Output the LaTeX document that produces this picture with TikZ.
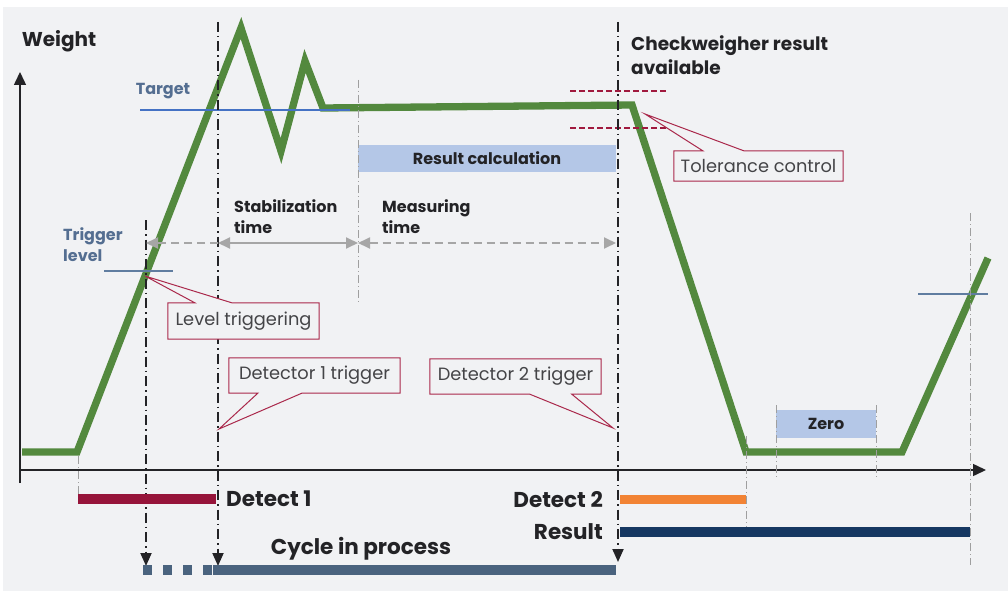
\documentclass[tikz,border=0pt]{standalone}
\usepackage{fontspec}
\setmainfont{Poppins}
\usetikzlibrary{arrows.meta}
\definecolor{bg}{RGB}{241,242,244}
\definecolor{txt}{RGB}{35,35,38}
\definecolor{curvegreen}{RGB}{83,137,62}
\definecolor{targetblue}{RGB}{68,114,196}
\definecolor{trigblue}{RGB}{96,125,160}
\definecolor{labelblue}{RGB}{84,110,145}
\definecolor{tolred}{RGB}{160,25,62}
\definecolor{calloutred}{RGB}{170,40,75}
\definecolor{calcblue}{RGB}{180,199,231}
\definecolor{detred}{RGB}{150,20,58}
\definecolor{detorange}{RGB}{242,131,52}
\definecolor{resnavy}{RGB}{22,56,98}
\definecolor{cycleslate}{RGB}{74,99,126}

\begin{document}
\begin{tikzpicture}[x=1pt,y=-1pt,
		gtip/.tip={Triangle[width=11pt,length=12pt]},
		lbl/.style={font=\bfseries\fontsize{16}{21}\selectfont, text=txt, inner sep=0pt, align=left},
		biglbl/.style={font=\bfseries\fontsize{21.5}{24}\selectfont, text=txt, inner sep=0pt},
		calcbox/.style={fill=calcblue, font=\bfseries\fontsize{16}{20}\selectfont, text=txt, inner sep=0pt},
		callout/.style={fill=bg, font=\fontsize{17.8}{20}\selectfont, text=txt!85, inner sep=0pt},
		calloutline/.style={draw=calloutred, fill=bg, line width=1pt, line join=miter},
		ddash/.style={draw=txt, line width=1.9pt, dash pattern=on 10pt off 4pt on 1.5pt off 4pt, -{Triangle[width=11pt,length=13pt]}},
		gdash/.style={draw=gray!75, line width=0.9pt, dash pattern=on 8pt off 3pt on 1pt off 3pt},
		garrow/.style={draw=gray!70, line width=1.8pt},
		axis/.style={draw=txt, line width=1.5pt, -{Triangle[width=12pt,length=13pt]}}]

		\fill[white] (0,0) rectangle (1008,591);
		\fill[bg] (3,7) rectangle (1008,591);
		\useasboundingbox (0,0) rectangle (1008,591);

		\draw[axis] (20,483) -- (20,72);
		\draw[axis] (20,470) -- (986,470);

		\draw[curvegreen, line width=7.3pt] (22,452) -- (77,452) -- (241,28) -- (281,151) -- (305,61) -- (323,108) -- (632,105) -- (746,452) -- (902,452) -- (988,258);

		\draw[targetblue, line width=2.8pt] (140,110) -- (350,110);
		\draw[trigblue, line width=2.8pt] (104,271) -- (173,271);
		\draw[trigblue, line width=2.8pt] (918,294) -- (988,294);
		\draw[tolred, line width=1.6pt, dash pattern=on 6pt off 3pt] (570,91) -- (667,91);
		\draw[tolred, line width=1.6pt, dash pattern=on 6pt off 3pt] (570,128) -- (667,128);

		\node[calcbox, minimum width=258pt, minimum height=27pt] (rescalc) at (487,158.5) {Result calculation};
		\node[calcbox, minimum width=100pt, minimum height=28pt] (zero) at (826,423.5) {Zero};

		\coordinate (trigtop) at (146,220);
		\coordinate (trigbot) at (146,566);
		\coordinate (det1top) at (218,22);
		\coordinate (det1bot) at (218,566);
		\coordinate (det2top) at (618,22);
		\coordinate (det2bot) at (618,562);
		\draw[ddash] (trigtop) -- (trigbot);
		\draw[ddash] (det1top) -- (det1bot);
		\draw[ddash] (det2top) -- (det2bot);

		\draw[gdash] (358,80) -- (358,302);
		\draw[gdash] (78,456) -- (78,498);
		\draw[gdash] (746,436) -- (746,527);
		\draw[gdash] (776,405) -- (776,478);
		\draw[gdash] (876,405) -- (876,478);
		\draw[gdash] (970,213) -- (970,565);

		\coordinate (t0) at (146,243);
		\coordinate (t1) at (218,243);
		\coordinate (t2) at (358,243);
		\coordinate (t3) at (616,243);
		\draw[garrow, dash pattern=on 8pt off 5pt, -{gtip}] (t1) -- (t0);
		\draw[garrow, {gtip}-{gtip}] (t1) -- (t2);
		\draw[garrow, dash pattern=on 8pt off 5pt, {gtip}-{gtip}] (t2) -- (t3);

		\fill[detred] (78,494) rectangle (216,504);
		\fill[detorange] (620,495) rectangle (746,504);
		\fill[resnavy] (620,527) rectangle (970,537);
		\fill[cycleslate] (213,565) rectangle (616,575);
		\foreach \x in {143,163,183,203}
			\fill[cycleslate] (\x,565) rectangle +(9,10);

		\node[biglbl, font=\bfseries\fontsize{20}{24}\selectfont] (weight) at (59,41) {Weight};
		\node[lbl, text=labelblue] (target) at (163,91) {Target};
		\node[lbl, text=labelblue, anchor=west] (trig) at (63,245) {Trigger\\level};
		\node[lbl, font=\bfseries\fontsize{18.5}{24}\selectfont, anchor=west] (checkw) at (631,55) {Checkweigher result\\available};
		\node[lbl, anchor=west] (stab) at (234,217) {Stabilization\\time};
		\node[lbl, anchor=west] (meas) at (382,217) {Measuring\\time};

		\node[biglbl, anchor=west] (detect1) at (226,499) {Detect 1};
		\node[biglbl, anchor=east] (detect2) at (603,500) {Detect 2};
		\node[biglbl, anchor=east] (result) at (603,532) {Result};
		\node[biglbl] (cycle) at (361,549) {Cycle in process};

		\node[callout, minimum width=151pt, minimum height=36pt] (lvl) at (243.5,321) {Level triggering};
		\coordinate (lvltip) at (145,276);
		\draw[calloutline] (lvl.north west) -- ([xshift=27pt]lvl.north west) -- (lvltip) -- ([xshift=64pt]lvl.north west) -- (lvl.north east) -- (lvl.south east) -- (lvl.south west) -- cycle;
		\node[callout, fill=none] at (lvl) {Level triggering};

		\node[callout, minimum width=171pt, minimum height=35pt] (det1) at (314.5,375.5) {Detector 1 trigger};
		\coordinate (det1tip) at (219,429);
		\draw[calloutline] (det1.south west) -- ([xshift=29pt]det1.south west) -- (det1tip) -- ([xshift=73pt]det1.south west) -- (det1.south east) -- (det1.north east) -- (det1.north west) -- cycle;
		\node[callout, fill=none] at (det1) {Detector 1 trigger};

		\node[callout, minimum width=171pt, minimum height=35pt] (det2) at (515.5,376.5) {Detector 2 trigger};
		\coordinate (det2tip) at (613,428);
		\draw[calloutline] (det2.south west) -- ([xshift=100pt]det2.south west) -- (det2tip) -- ([xshift=142pt]det2.south west) -- (det2.south east) -- (det2.north east) -- (det2.north west) -- cycle;
		\node[callout, fill=none] at (det2) {Detector 2 trigger};

		\node[callout, minimum width=169pt, minimum height=30pt] (tol) at (758.5,166) {Tolerance control};
		\coordinate (toltip) at (645,114);
		\draw[calloutline] (tol.north west) -- ([xshift=29pt]tol.north west) -- (toltip) -- ([xshift=70pt]tol.north west) -- (tol.north east) -- (tol.south east) -- (tol.south west) -- cycle;
		\node[callout, fill=none] at (tol) {Tolerance control};
\end{tikzpicture}
\end{document}
